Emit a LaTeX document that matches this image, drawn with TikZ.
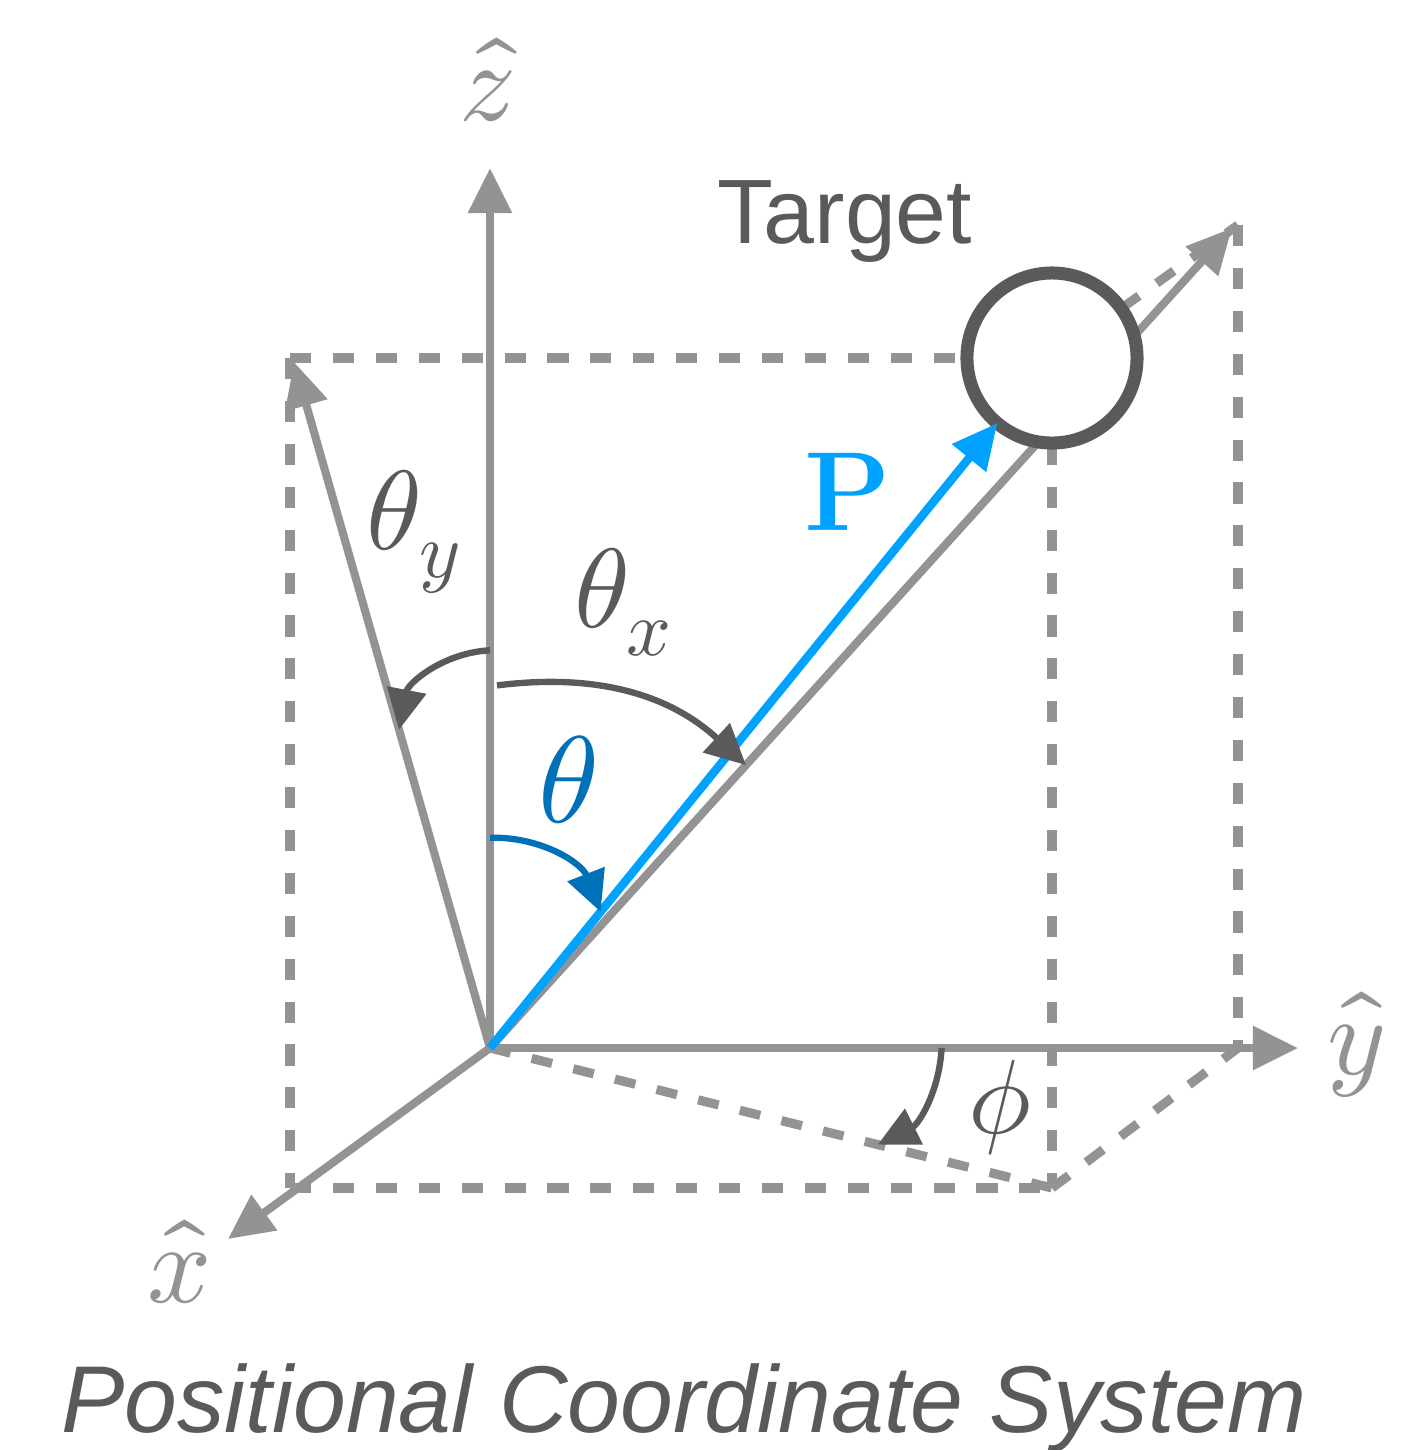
\documentclass[tikz,border=0pt]{standalone}
\usepackage{amsmath}
\usepackage{unicode-math}
\usepackage{xcolor}
\usepackage{tikz}
\usetikzlibrary{arrows.meta,positioning,calc}
\newfontfamily\labelfont{Liberation Sans}

\definecolor{axisgray}{HTML}{939393}
\definecolor{inkgray}{HTML}{5A5A5A}
\definecolor{pblue}{HTML}{00A2FF}
\definecolor{thetablue}{HTML}{0071B8}

\begin{document}
\begin{tikzpicture}[>={Triangle[length=12.8pt,width=12pt]},x=0.01cm,y=-0.01cm,
  axis/.style={axisgray,line width=2.3pt,->},
  guide/.style={axisgray,line width=2.6pt,dash pattern=on 6pt off 6.2pt},
  anglearc/.style={inkgray,line width=1.8pt,-{Triangle[length=11.5pt,width=11pt]}},
  mathlabel/.style={font=\fontsize{32}{36}\selectfont}]
  \useasboundingbox (0,0) rectangle (1409,1450);
  \coordinate (O) at (490,1048);
  \coordinate (zTip) at (490,168);
  \coordinate (yTip) at (1298,1048);
  \coordinate (xTip) at (228,1239);
  \coordinate (tiltTip) at (294,362);
  \coordinate (rayTip) at (1232,228);
  \coordinate (tgt) at (1052,358);
  \coordinate (cornerTL) at (290,358);
  \coordinate (cornerBL) at (290,1188);
  \coordinate (foot) at (1052,1188);
  \coordinate (cornerTR) at (1238,225);
  \coordinate (cornerBR) at (1238,1048);
  % projection box
  \draw[guide] (cornerTL) -- (tgt);
  \draw[guide] (cornerTL) -- (cornerBL);
  \draw[guide] (cornerBL) -- (foot);
  \draw[guide] (tgt) -- (foot);
  \draw[guide] (O) -- (foot);
  \draw[guide] (foot) -- (cornerBR);
  \draw[guide] (cornerTR) -- (cornerBR);
  \draw[guide] (tgt) -- (cornerTR);
  % axes
  \draw[axis] (O) -- (zTip);
  \draw[axis] (O) -- (yTip);
  \draw[axis] (O) -- (xTip);
  \draw[axis] (O) -- (tiltTip);
  \draw[axis] (O) -- (rayTip);
  \node[circle,draw=inkgray,fill=white,line width=3.7pt,minimum size=1.7cm,
    inner sep=0pt,outer sep=0pt] (target) at (tgt) {};
  \draw[pblue,line width=2.4pt,->] (O) -- (target.230);
  % angles
  \draw[anglearc] ($(O)!0.452!(zTip)$) to[bend right=38] ($(O)!0.464!(tiltTip)$);
  \draw[anglearc] ($(O)!0.412!(zTip)+(7,0)$) to[bend left=25] ($(O)!0.345!(rayTip)$);
  \draw[anglearc,thetablue] ($(O)!0.239!(zTip)$) to[bend left=35] ($(O)!0.218!(target.230)$);
  \draw[anglearc] ($(O)!0.559!(yTip)$) to[bend left=30] ($(O)!0.69!(foot)$);
  % labels
  \node[mathlabel,axisgray] (zLabel) at (487,80) {$\hat{z}$};
  \node[mathlabel,axisgray] (yLabel) at (1357,1045) {$\hat{y}$};
  \node[mathlabel,axisgray] (xLabel) at (180,1262) {$\hat{x}$};
  \node[mathlabel,inkgray] (thetaY) at (414,532) {$\theta_y$};
  \node[mathlabel,inkgray] (thetaX) at (624,602) {$\theta_x$};
  \node[font=\fontsize{35}{40}\selectfont,thetablue] (thetaP) at (568,780) {$\theta$};
  \node[font=\fontsize{30}{36}\selectfont,inkgray] (phiLabel) at (1000,1108) {$\phi$};
  \node[mathlabel,pblue,anchor=base] (pLabel) at (848,530) {$\mathbf{P}$};
  \node[font=\labelfont\fontsize{26}{30}\selectfont,inkgray,anchor=base] (targetLabel) at (845,243) {Target};
  \node[font=\labelfont\itshape\fontsize{27}{32}\selectfont,inkgray,anchor=base] (title) at (684,1432) {Positional Coordinate System};
\end{tikzpicture}
\end{document}
